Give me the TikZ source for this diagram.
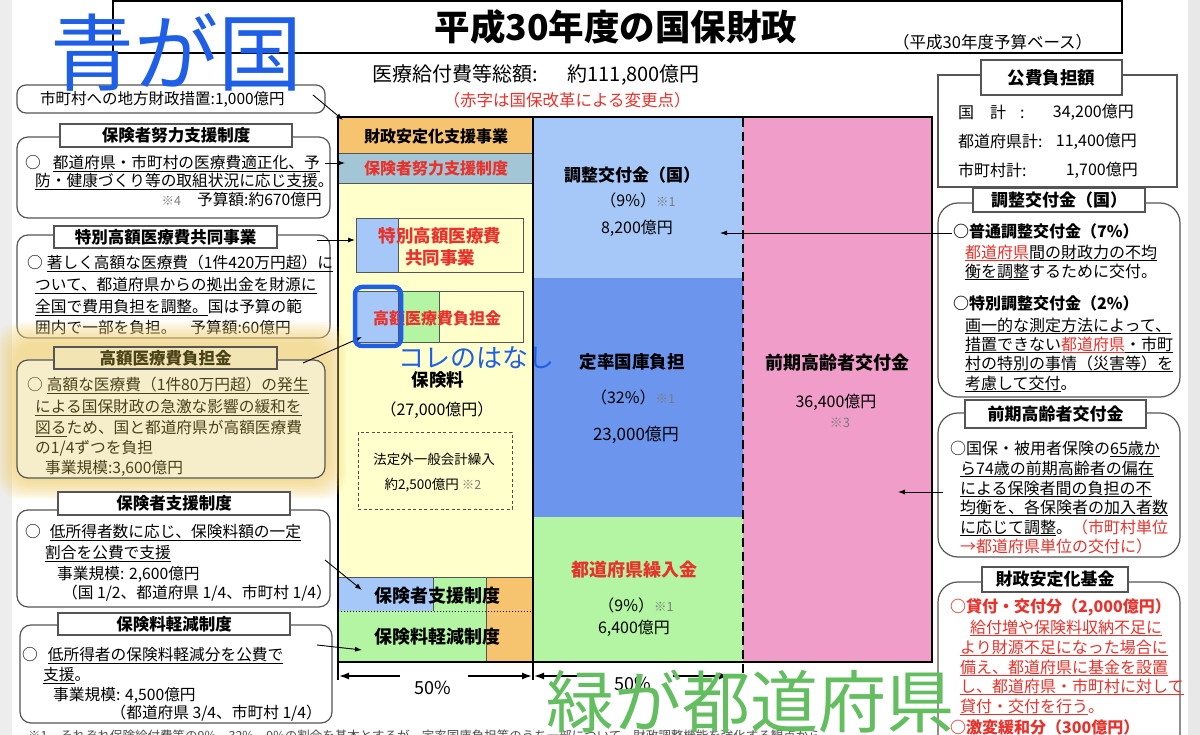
\documentclass[tikz,border=0pt]{standalone}
\usepackage{fontspec}
\setmainfont{Noto Sans CJK JP}
\usetikzlibrary{arrows.meta}
\definecolor{cOr}{HTML}{F6C46E}
\definecolor{cGB}{HTML}{A3C6D6}
\definecolor{cYe}{HTML}{FFFFCC}
\definecolor{cLB}{HTML}{A5C8F8}
\definecolor{cMB}{HTML}{6C96EE}
\definecolor{cGr}{HTML}{B3F5A2}
\definecolor{cPk}{HTML}{F09DC9}
\definecolor{jred}{HTML}{E8322B}
\definecolor{hblue}{HTML}{1F5FE8}
\definecolor{hgreen}{HTML}{62BE5E}
\definecolor{glowc}{HTML}{F3D070}
\definecolor{hlfill}{HTML}{F6EDCB}
\definecolor{hltab}{HTML}{F3E5B3}
\definecolor{hltext}{HTML}{4A4218}
\definecolor{notec}{HTML}{7A7A7A}
\definecolor{edge}{HTML}{555555}
\newcommand\fsz[1]{\fontsize{#1}{#1}\selectfont}
\newcommand\ulx[1]{\setbox0\hbox{#1}\rlap{\smash{\rule[-0.17em]{\wd0}{0.06em}}}\box0}
\newcommand\rd[1]{{\color{jred}#1}}
\newcommand\nt[1]{{\color{notec}\fsz{12.5}#1}}
\begin{document}
\begin{tikzpicture}[x=1pt,y=-1pt,
  L/.style={inner sep=0, anchor=west, font=\fsz{15.7}},
  R/.style={inner sep=0, anchor=east, font=\fsz{15.7}},
  C/.style={inner sep=0, anchor=center},
  RL/.style={inner sep=0, anchor=west, font=\fsz{16}},
  rbox/.style={draw=edge, line width=1.2, rounded corners=11, fill=white, inner sep=0},
  rboxb/.style={draw=edge, line width=1.2, rounded corners=20, fill=white, inner sep=0},
  tabbox/.style={draw=edge, line width=1.2, fill=white, inner sep=0, font=\bfseries\fsz{16.5}},
  arr/.style={-{Latex[length=7,width=5]}, line width=0.9},
  dimarr/.style={-{Latex[length=10,width=7]}, line width=1.6},
  chl/.style={inner sep=0, anchor=center, font=\fsz{16}},
  chb/.style={inner sep=0, anchor=center, font=\bfseries\fsz{17.5}},
  hand/.style={inner sep=0, anchor=center}
]
\useasboundingbox (0,0) rectangle (1200,735);
\fill[white] (0,0) rectangle (1200,735);
\fill[black!7] (0,0) rectangle (12,735);
\fill[black!9] (1188,0) rectangle (1200,735);

% ---------- title ----------
\draw[line width=2.5] (113,1) rectangle (1122,53);
\node[C, font=\bfseries\fsz{35.5}] (title) at (616,27) {平成30年度の国保財政};
\node[L, font=\fsz{16.5}] (basis) at (893,42) {（平成30年度予算ベース）};
\node[L, font=\fsz{20}] (total) at (372,75) {医療給付費等総額:\hspace{30pt}約111,800億円};
\node[C, font=\fsz{16.5}, text=jred] (rednote) at (567,100) {（赤字は国保改革による変更点）};

% ---------- chart fills ----------
\fill[cOr] (338,117) rectangle (533,153);
\fill[cGB] (338,153) rectangle (533,183);
\fill[cYe] (338,183) rectangle (533,577);
\fill[cLB] (338,577) rectangle (433,611);
\fill[cGr] (433,577) rectangle (486,611);
\fill[cOr] (486,577) rectangle (533,662);
\fill[cGr] (338,611) rectangle (486,662);
\fill[cLB] (533,117) rectangle (743,278);
\fill[cMB] (533,278) rectangle (743,517);
\fill[cGr] (533,517) rectangle (743,662);
\fill[cPk] (743,117) rectangle (932,662);
\draw[edge, line width=0.8] (338,153) -- (533,153);
\draw[edge, line width=0.8] (338,183) -- (533,183);
\draw[edge, line width=0.8] (338,577) -- (533,577);
\draw[edge, line width=0.6] (433,577) -- (433,611);
\draw[edge, line width=0.6] (486,577) -- (486,662);
\draw[black, line width=1, dotted] (338,611) -- (533,611);
% inner boxes
\fill[cLB] (356,218) rectangle (398,272);
\draw[edge, line width=0.8] (356,218) rectangle (523,272);
\draw[edge, line width=0.8] (398,218) -- (398,272);
\fill[cLB] (356,291) rectangle (398,342);
\fill[cGr] (398,291) rectangle (439,342);
\draw[edge, line width=0.8] (356,291) rectangle (523,342);
\draw[edge, line width=0.8] (398,291) -- (398,342);
\draw[edge, line width=0.8] (439,291) -- (439,342);
\draw[black!70, line width=1, dash pattern=on 3 off 2.5] (358,432) rectangle (512,509);
% frame
\draw[line width=2.5] (338,117) -- (932,117) -- (932,662) -- (338,662);
\draw[line width=2.5] (338,116) -- (338,680);
\draw[line width=2.5] (533,116) -- (533,680);
\draw[line width=2.5, dash pattern=on 9 off 5] (743,118) -- (743,682);

% dimension arrows
\coordinate (dL1) at (339,676); \coordinate (dL2) at (400,676);
\coordinate (dL3) at (468,676); \coordinate (dL4) at (532,676);
\coordinate (dR1) at (534,676); \coordinate (dR2) at (593,676);
\coordinate (dR3) at (673,676); \coordinate (dR4) at (729,676);
\draw[dimarr] (dL2) -- (dL1);
\draw[dimarr] (dL3) -- (dL4);
\draw[dimarr] (dR2) -- (dR1);
\draw[dimarr] (dR3) -- (dR4);
\node[C, font=\fsz{18}] (pctL) at (433,688) {50\%};
\node[C, font=\fsz{18}] (pctR) at (633,684) {50\%};

% chart texts
\node[C, font=\bfseries\fsz{16}] (zaisei) at (436,136) {財政安定化支援事業};
\node[C, font=\bfseries\fsz{16}, text=jred] (doryoku) at (436,168) {保険者努力支援制度};
\node[C, font=\bfseries\fsz{17.5}, text=jred] (tokubetsu) at (440,236) {特別高額医療費};
\node[C, font=\bfseries\fsz{17.5}, text=jred] (kyodo) at (440,258) {共同事業};
\node[C, font=\bfseries\fsz{16}, text=jred] (kogaku) at (437,318) {高額医療費負担金};
\node[chb] (hokenryo) at (438,380) {保険料};
\node[chl] (hkamount) at (437,410) {（27,000億円）};
\node[C, font=\fsz{13.5}] (hotei1) at (434,459) {法定外一般会計繰入};
\node[C, font=\fsz{13.5}] (hotei2) at (433,485) {約2,500億円 \nt{※2}};
\node[C, font=\bfseries\fsz{18}] (shien) at (437,596) {保険者支援制度};
\node[C, font=\bfseries\fsz{18}] (keigen) at (437,637) {保険料軽減制度};
\node[C, font=\bfseries\fsz{17}] (chosei) at (632,175) {調整交付金（国）};
\node[chl] (chosei2) at (638,200) {（9\%）\nt{※1}};
\node[chl] (chosei3) at (637,228) {8,200億円};
\node[chb] (teiritsu) at (632,362) {定率国庫負担};
\node[chl] (teiritsu2) at (633,397) {（32\%）\nt{※1}};
\node[C, font=\fsz{17}] (teiritsu3) at (636,435) {23,000億円};
\node[C, font=\bfseries\fsz{18}, text=jred] (kuriire) at (634,570) {都道府県繰入金};
\node[chl] (kuriire2) at (636,605) {（9\%）\nt{※1}};
\node[chl] (kuriire3) at (634,628) {6,400億円};
\node[C, font=\bfseries\fsz{18}] (zenki) at (837,363) {前期高齢者交付金};
\node[chl] (zenki2) at (836,402) {36,400億円};
\node[C, font=\fsz{13}, text=notec] (zenki3) at (840,423) {※3};

% ---------- left boxes ----------
\node[rbox, rounded corners=9, minimum width=308, minimum height=28] (b0) at (171,99) {};
\node[L, font=\fsz{15.5}] (b0t) at (40,99) {市町村への地方財政措置:1,000億円};

\node[rbox, minimum width=313, minimum height=81] (b1) at (173.5,177.5) {};
\node[tabbox, minimum width=232, minimum height=23] (t1) at (176,135.5) {保険者努力支援制度};
\node[L] (b1a) at (25,163) {○\hspace{12pt}\ulx{都道府県・市町村の医療費適正化、予}};
\node[L] (b1b) at (35,181) {\ulx{防・健康づくり等の取組状況に応じ支援}。};
\node[R] (b1c) at (322,200) {\nt{※4}\hspace{16pt}予算額:約670億円};

\node[rbox, minimum width=313, minimum height=103] (b2) at (173.5,286.5) {};
\node[tabbox, minimum width=223, minimum height=22] (t2) at (165.5,237) {特別高額医療費共同事業};
\node[L] (b2a) at (27,263) {○\hspace{4pt}\ulx{著しく高額な医療費（1件420万円超）に}};
\node[L] (b2b) at (35,285) {\ulx{ついて、都道府県からの拠出金を財源に}};
\node[L] (b2c) at (35,307) {\ulx{全国で費用負担を調整。}国は予算の範};
\node[L] (b2d) at (35,328) {囲内で一部を負担。\hspace{14pt}予算額:60億円};

% highlighter glow
\foreach \i in {0,...,9}{
  \fill[glowc, opacity=0.1, rounded corners=22] ({14-1.9*\i},{342-2.2*\i}) rectangle ({328+2.0*\i},{481+2.0*\i});
}
\node[rbox, fill=hlfill, minimum width=308, minimum height=118] (b3) at (171,419) {};
\node[tabbox, fill=hltab, text=hltext, minimum width=223, minimum height=22] (t3) at (165.5,358) {高額医療費負担金};
\node[L, text=hltext] (b3a) at (27,385) {○\hspace{4pt}\ulx{高額な医療費（1件80万円超）の発生}};
\node[L, text=hltext] (b3b) at (35,407) {\ulx{による国保財政の急激な影響の緩和を}};
\node[L, text=hltext] (b3c) at (35,428) {\ulx{図る}ため、国と都道府県が高額医療費};
\node[L, text=hltext] (b3d) at (35,448) {の1/4ずつを負担};
\node[L, text=hltext] (b3e) at (45,468) {事業規模:3,600億円};

\node[rbox, minimum width=313, minimum height=97] (b4) at (173.5,558.5) {};
\node[tabbox, minimum width=232, minimum height=23] (t4) at (174,503.5) {保険者支援制度};
\node[L] (b4a) at (25,532) {○\hspace{9pt}\ulx{低所得者数に応じ、保険料額の一定}};
\node[L] (b4b) at (45,553) {\ulx{割合を公費で支援}};
\node[L] (b4c) at (57,574) {事業規模: 2,600億円};
\node[L] (b4d) at (62,593) {（国 1/2、都道府県 1/4、市町村 1/4）};

\node[rbox, minimum width=312, minimum height=98] (b5) at (176,674) {};
\node[tabbox, minimum width=232, minimum height=22] (t5) at (174,624) {保険料軽減制度};
\node[L] (b5a) at (22,655) {○\hspace{10pt}\ulx{低所得者の保険料軽減分を公費で}};
\node[L] (b5b) at (43,675) {\ulx{支援}。};
\node[L] (b5c) at (53,695) {事業規模: 4,500億円};
\node[R] (b5d) at (322,713) {（都道府県 3/4、市町村 1/4）};

% ---------- right boxes ----------
\node[draw=edge, line width=1.2, fill=white, inner sep=0, minimum width=239, minimum height=112] (k0) at (1057.5,131) {};
\node[tabbox, font=\bfseries\fsz{17.5}, minimum width=141, minimum height=35] (kt0) at (1051.5,77.5) {公費負担額};
\node[RL] (k0a) at (958,112) {国\hspace{16pt}計\hspace{14pt}:};
\node[R, font=\fsz{16}] (k0b) at (1134,112) {34,200億円};
\node[RL] (k0c) at (958,141) {都道府県計:};
\node[R, font=\fsz{16}] (k0d) at (1137,141) {11,400億円};
\node[RL] (k0e) at (958,170) {市町村計:};
\node[R, font=\fsz{16}] (k0f) at (1138,170) {1,700億円};

\node[rboxb, minimum width=242, minimum height=194] (k1) at (1059,300) {};
\node[tabbox, font=\bfseries\fsz{17}, minimum width=172, minimum height=24] (kt1) at (1059,200) {調整交付金（国）};
\node[RL, font=\bfseries\fsz{16}] (k1a) at (953,231) {○普通調整交付金（7\%）};
\node[RL] (k1b) at (965,252) {{\color{jred}\ulx{都道府県}}\ulx{間の財政力の不均}};
\node[RL] (k1c) at (965,271) {\ulx{衡を調整}するために交付。};
\node[RL, font=\bfseries\fsz{16}] (k1d) at (953,303) {○特別調整交付金（2\%）};
\node[RL] (k1e) at (965,325) {\ulx{画一的な測定方法によって、}};
\node[RL] (k1f) at (965,344) {\ulx{措置できない}{\color{jred}\ulx{都道府県}}\ulx{・市町}};
\node[RL] (k1g) at (965,363) {\ulx{村の特別の事情（災害等）を}};
\node[RL] (k1h) at (965,383) {\ulx{考慮して交付}。};

\node[rboxb, minimum width=242, minimum height=144] (k2) at (1059,485) {};
\node[tabbox, font=\bfseries\fsz{17}, minimum width=181, minimum height=28] (kt2) at (1055.5,414) {前期高齢者交付金};
\node[RL] (k2a) at (950,448) {○国保・被用者保険の\ulx{65歳か}};
\node[RL] (k2b) at (960,468) {\ulx{ら74歳の前期高齢者の偏在}};
\node[RL] (k2c) at (960,488) {\ulx{による保険者間の負担の不}};
\node[RL] (k2d) at (960,507) {\ulx{均衡を、各保険者の加入者数}};
\node[RL] (k2e) at (960,527) {\ulx{に応じて調整}。\rd{（市町村単位}};
\node[RL, text=jred] (k2f) at (960,546) {→都道府県単位の交付に）};

\node[rboxb, minimum width=242, minimum height=188] (k3) at (1059,676) {};
\node[tabbox, font=\bfseries\fsz{17}, minimum width=146, minimum height=25] (kt3) at (1055,579.5) {財政安定化基金};
\node[RL, font=\bfseries\fsz{16}, text=jred] (k3a) at (950,607) {○貸付・交付分（2,000億円）};
\node[RL, text=jred] (k3b) at (970,627) {\ulx{給付増や保険料収納不足に}};
\node[RL, text=jred] (k3c) at (960,647) {\ulx{より財源不足になった場合に}};
\node[RL, text=jred] (k3d) at (960,667) {\ulx{備え、都道府県に基金を設置}};
\node[RL, text=jred] (k3e) at (960,686) {\ulx{し、都道府県・市町村に対して}};
\node[RL, text=jred] (k3f) at (960,706) {\ulx{貸付・交付を行う}。};
\node[RL, font=\bfseries\fsz{16}, text=jred] (k3g) at (950,727) {○激変緩和分（300億円）};

% ---------- connectors ----------
\coordinate (s0) at (313,95);  \coordinate (e0) at (343,120);
\coordinate (s1) at (325,163); \coordinate (e1) at (345,163);
\coordinate (s2) at (317,240); \coordinate (e2) at (355,240);
\coordinate (s3) at (303,363); \coordinate (e3) at (362,337);
\coordinate (s4) at (325,560); \coordinate (e4) at (362,590);
\coordinate (s5) at (317,645); \coordinate (e5) at (362,650);
\coordinate (s6) at (952,233); \coordinate (e6) at (720,233);
\coordinate (s7) at (943,492); \coordinate (e7) at (898,492);
\draw[arr] (s0) -- (e0);
\draw[arr] (s1) -- (e1);
\draw[arr] (s2) -- (e2);
\draw[arr] (s3) -- (e3);
\draw[arr] (s4) -- (e4);
\draw[arr] (s5) -- (e5);
\draw[arr] (s6) -- (e6);
\draw[arr] (s7) -- (e7);

% footnote (cut off at the bottom)
\node[L, font=\fsz{12.5}, text=black!70] (fn) at (28,736) {※1　それぞれ保険給付費等の9\%、32\%、9\%の割合を基本とするが、定率国庫負担等のうち一部について、財政調整機能を強化する観点から};

% ---------- handwritten notes ----------
\node[hand, font=\fsz{84}, text=hblue] (hnote1) at (176,52) {青が国};
\draw[hblue, line width=4.5, rounded corners=7] (355,287) rectangle (401,346);
\node[hand, font=\fsz{26}, text=hblue] (hnote2) at (476,358) {コレのはなし};
\node[hand, font=\fsz{68}, text=hgreen] (hnote3) at (750,702) {緑が都道府県};
\end{tikzpicture}
\end{document}
